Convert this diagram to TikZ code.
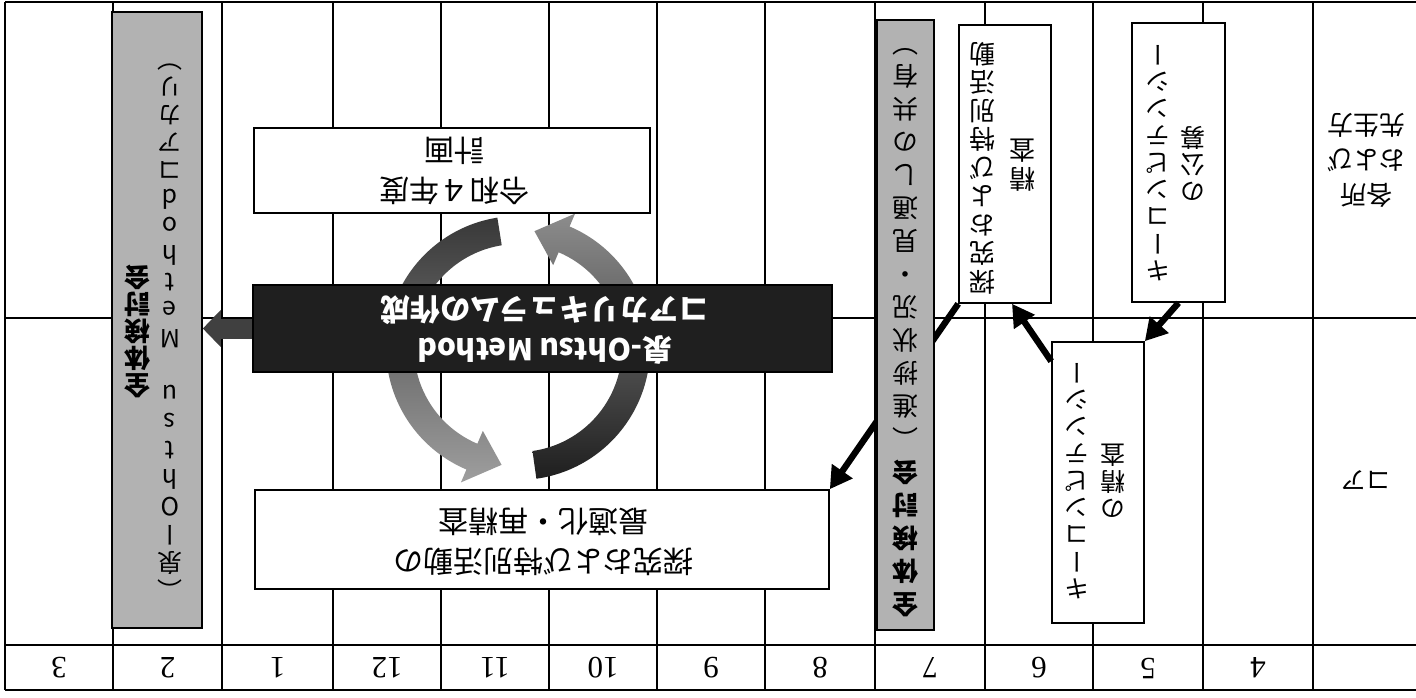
\documentclass[tikz,border=0pt]{standalone}
\usepackage{fontspec}
\setmainfont{Noto Sans CJK JP}
\newfontfamily\jpfont{Noto Sans CJK JP}
\newfontfamily\vjpfont[RawFeature=+vert]{Noto Sans CJK JP}
\newfontfamily\numfont{Liberation Serif}
\usetikzlibrary{arrows.meta,fit,calc}
\begin{document}
\begin{tikzpicture}[x=0.5pt,y=0.5pt,
  gridline/.style={line width=1pt},
  wbox/.style={draw, line width=0.8pt, fill=white, inner sep=0pt},
  gbar/.style={draw, line width=0.8pt, fill=black!30, inner sep=0pt},
  bbox/.style={draw, line width=0.8pt, fill=black!88, inner sep=0pt},
  conn/.style={line width=3.2pt, -{Triangle[length=11pt,width=12pt]}},
  flip/.style={rotate=180, inner sep=0pt, align=center},
  vcol/.style={flip, font=\vjpfont\fontsize{12.5}{13.5}\selectfont},
  vcolw/.style={flip, font=\vjpfont\fontsize{13}{14.25}\selectfont},
  htxt/.style={flip, font=\jpfont\fontsize{15}{20}\selectfont},
  num/.style={rotate=180, inner sep=0pt, font=\numfont\fontsize{15.5}{15.5}\selectfont}]

\useasboundingbox (0,0) rectangle (1416,-697);
\fill[white] (0,0) rectangle (1416,-697);

% table grid
\foreach \yy in {2,318,645,690} \draw[gridline] (5,-\yy) -- (1416,-\yy);
\foreach \xx in {5,113,222,333,441,549,657,765,875,985,1093,1203,1313}
  \draw[gridline] (\xx,-2) -- (\xx,-690);

% header numbers
\foreach \xx/\lab [count=\i] in {59/3,167.5/2,277.5/1,387/12,495/11,603/10,711/9,820/8,930/7,1039/6,1148/5,1258/4}
  \node[num] (h\i) at (\xx,-668) {\lab};

% row labels
\node[flip, font=\jpfont\fontsize{13}{17.5}\selectfont] (lab1) at (1366,-160) {各所\\および\\先生方};
\node[flip, font=\jpfont\fontsize{12.5}{14}\selectfont] (lab2) at (1366,-480) {コア};

% cycle arrows
\begin{scope}[shift={(518,-348)}]
  \shade[top color=black!45, bottom color=black!88]
    (-82:132) arc[start angle=-82, end angle=67, radius=132]
    -- (67:146) -- (82:118) -- (67:90) -- (67:104)
    arc[start angle=67, end angle=-82, radius=104] -- cycle;
  \shade[top color=black!78, bottom color=black!38]
    (99:132) arc[start angle=99, end angle=247, radius=132]
    -- (247:146) -- (262:118) -- (247:90) -- (247:104)
    arc[start angle=247, end angle=99, radius=104] -- cycle;
\end{scope}

% white boxes
\node[wbox, fit={(1132,-23) (1225,-302)}] (b1) {};
\node[wbox, fit={(959,-25) (1051,-303)}] (b2) {};
\node[wbox, fit={(1052,-342) (1144,-623)}] (b3) {};
\node[wbox, fit={(254,-128) (650,-213)}] (b4) {};
\node[wbox, fit={(255,-490) (829,-589)}] (b5) {};

% connectors
\draw[conn] (b1.south) -- (b3.north east);
\draw[conn] ([yshift=-10pt]b3.north west) -- ([xshift=3.5pt]b2.south);
\draw[conn] (b2.south west) -- (b5.north east);

% grey bars and black box
\node[gbar, fit={(877,-20) (934,-630)}] (gb2) {};
\node[gbar, fit={(112,-12) (202,-628)}] (gb1) {};
\node[bbox, fit={(253,-285) (832,-372)}] (blk) {};

% block arrow to left bar
\draw[line width=10pt, black!75, -{Triangle[length=9pt,width=18pt]}] (blk.west) -- (gb1.east |- blk.west);

% texts
\node[vcol] (t1a) at (1158,-163) {キ\\ー\\コ\\ン\\ピ\\テ\\ン\\シ\\ー};
\node[vcol] (t1b) at (1193,-163) {の\\公\\募};
\node[vcolw] (t2a) at (982,-168) {探\\究\\お\\よ\\び\\特\\別\\活\\動};
\node[vcolw] (t2b) at (1022,-165) {精\\査};
\node[vcol] (t3a) at (1077,-481) {キ\\ー\\コ\\ン\\ピ\\テ\\ン\\シ\\ー};
\node[vcol] (t3b) at (1113,-481) {の\\精\\査};
\node[htxt] (t4) at (454,-171) {令和４年度\\計画};
\node[htxt] (t5) at (543,-542) {探究および特別活動の\\最適化・再精査};
\node[htxt, text=white, font=\jpfont\bfseries\fontsize{15}{20}\selectfont] (t6) at (545,-330) {泉-Ohtsu Method\\コアカリキュラムの作成};
\node[flip, font=\vjpfont\fontsize{13}{16.5}\selectfont] (t7) at (905.5,-325)
  {\textbf{全}\\\textbf{体}\\\textbf{検}\\\textbf{討}\\\textbf{会}\\（\\進\\捗\\状\\況\\・\\見\\通\\し\\の\\共\\有\\）};
\node[flip, font=\vjpfont\bfseries\fontsize{13}{13.5}\selectfont] (t8a) at (137,-331) {全\\体\\検\\討\\会};
\node[flip, font=\vjpfont\fontsize{12.5}{14}\selectfont] (t8b) at (170,-318)
  {（\\泉\\ー\\O\\h\\t\\s\\u\\~\\M\\e\\t\\h\\o\\d\\コ\\ア\\カ\\リ\\）};
\end{tikzpicture}
\end{document}
